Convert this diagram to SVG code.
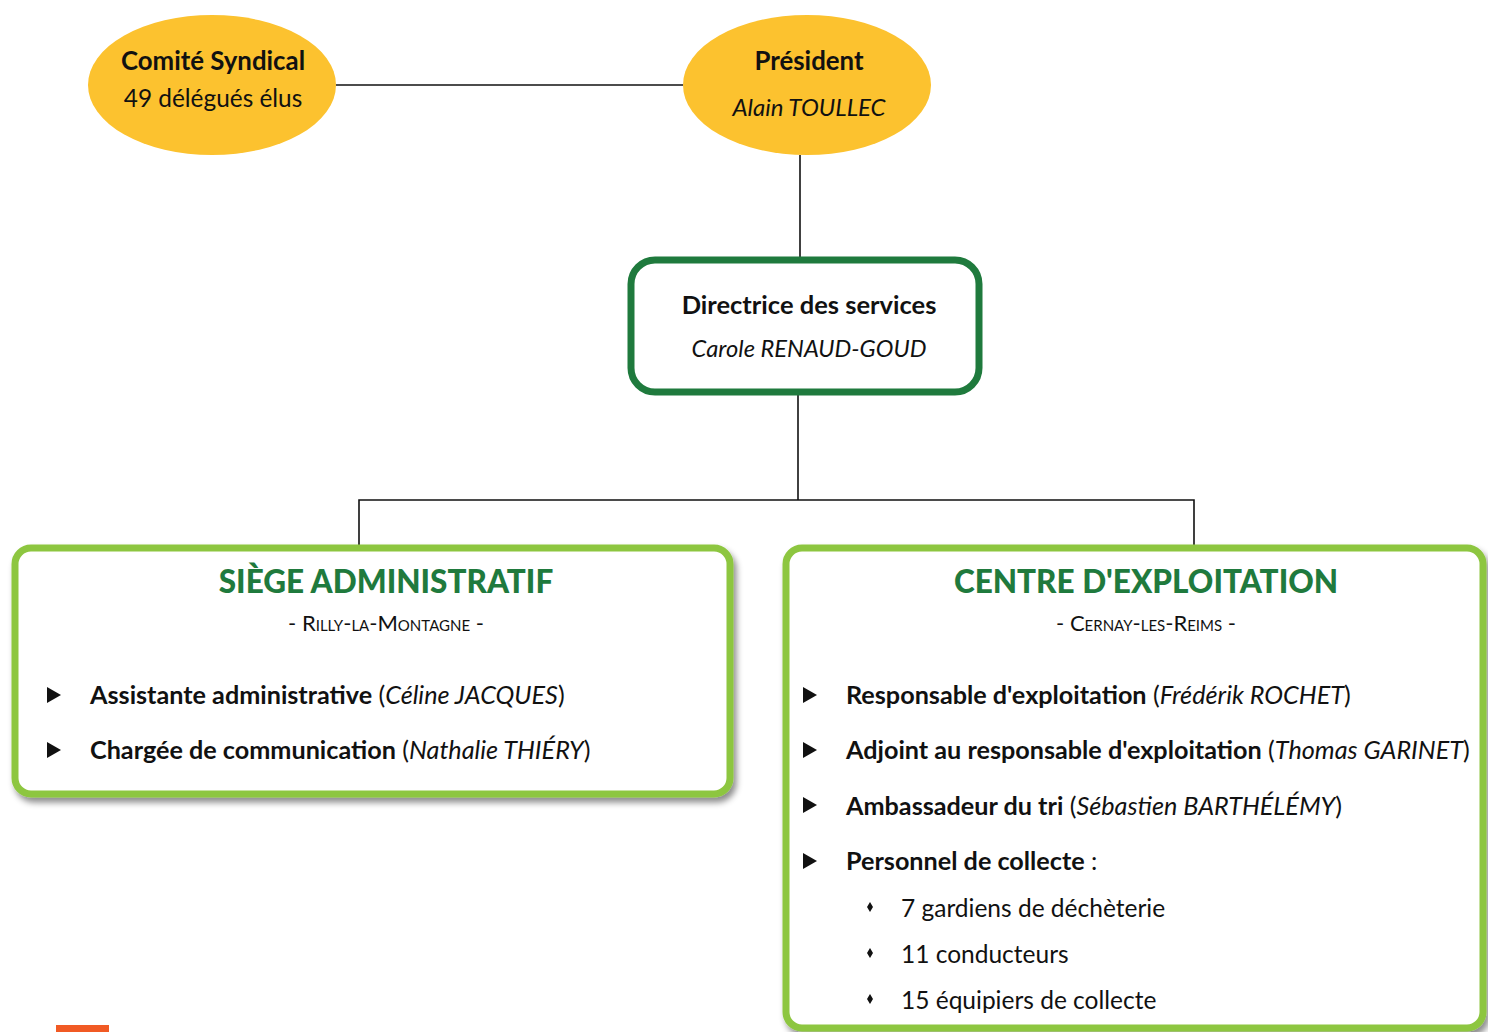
<svg xmlns="http://www.w3.org/2000/svg" width="1488" height="1032" viewBox="0 0 1488 1032">
<defs>
<style>
.t{font-family:Lato,"Open Sans","Noto Sans",sans-serif;fill:#111}
.b{font-weight:bold}
.i{font-style:italic}
.c{text-anchor:middle}
.conn{stroke:#111;stroke-width:1.6;fill:none}
.ell{fill:#fcc22f}
.box{fill:#fff;stroke:#8dc63f;stroke-width:7}
.title{font-family:Lato,"Open Sans",sans-serif;font-weight:900;fill:#1f7a3d;font-size:31.5px;text-anchor:middle}
.sub{font-size:22px;font-variant:small-caps}
.item{font-size:25.2px}
.si{font-size:24.5px}
.tri{fill:#111}
</style>
<filter id="sh" x="-5%" y="-5%" width="112%" height="115%">
<feDropShadow dx="3" dy="5" stdDeviation="3" flood-color="#000" flood-opacity="0.45"/>
</filter>
</defs>
<rect width="1488" height="1032" fill="#fff"/>
<g id="connectors">
<line class="conn" x1="336" y1="85" x2="683" y2="85"/>
<line class="conn" x1="800" y1="155" x2="800" y2="259"/>
<line class="conn" x1="798" y1="393" x2="798" y2="500"/>
<polyline class="conn" points="359,545 359,500 1194,500 1194,545"/>
</g>
<g id="comite">
<ellipse class="ell" cx="212" cy="85" rx="124" ry="70"/>
<text class="t b c" x="213" y="70" font-size="25.8">Comité Syndical</text>
<text class="t c" x="213" y="107" font-size="24.4">49 délégués élus</text>
</g>
<g id="president">
<ellipse class="ell" cx="807" cy="85" rx="124" ry="70"/>
<text class="t b c" x="809" y="70" font-size="25.8">Président</text>
<text class="t i c" x="809" y="116" font-size="24">Alain TOULLEC</text>
</g>
<g id="directrice">
<rect x="631" y="260" width="348" height="132" rx="24" fill="#fff" stroke="#1f7a3d" stroke-width="7"/>
<text class="t b c" x="809" y="314" font-size="25.5">Directrice des services</text>
<text class="t i c" x="809" y="357" font-size="23.7">Carole RENAUD-GOUD</text>
</g>
<g id="siege">
<rect class="box" x="15" y="548" width="715" height="246" rx="16" filter="url(#sh)"/>
<text class="title" x="386" y="593">SIÈGE ADMINISTRATIF</text>
<text class="t c sub" x="386" y="631">- Rilly-la-Montagne -</text>
<polygon class="tri" points="47,687 61,695 47,703"/>
<text class="t item" x="90" y="704"><tspan class="b">Assistante administrative</tspan> (<tspan class="i">Céline JACQUES</tspan>)</text>
<polygon class="tri" points="47,742 61,750 47,758"/>
<text class="t item" x="90" y="759"><tspan class="b">Chargée de communication</tspan> (<tspan class="i">Nathalie THIÉRY</tspan>)</text>
</g>
<g id="centre">
<rect class="box" x="786" y="548" width="697" height="480" rx="16" filter="url(#sh)"/>
<text class="title" x="1146" y="593">CENTRE D'EXPLOITATION</text>
<text class="t c sub" x="1146" y="631">- Cernay-les-Reims -</text>
<polygon class="tri" points="803,687 817,695 803,703"/>
<text class="t item" x="846" y="704"><tspan class="b">Responsable d'exploitation</tspan> (<tspan class="i">Frédérik ROCHET</tspan>)</text>
<polygon class="tri" points="803,742 817,750 803,758"/>
<text class="t item" x="846" y="759"><tspan class="b">Adjoint au responsable d'exploitation</tspan> (<tspan class="i">Thomas GARINET</tspan>)</text>
<polygon class="tri" points="803,797 817,805 803,813"/>
<text class="t item" x="846" y="815"><tspan class="b">Ambassadeur du tri</tspan> (<tspan class="i">Sébastien BARTHÉLÉMY</tspan>)</text>
<polygon class="tri" points="803,853 817,861 803,869"/>
<text class="t item" x="846" y="870"><tspan class="b">Personnel de collecte</tspan> :</text>
<polygon class="tri" points="870,902 873,907 870,912 867,907"/>
<text class="t si" x="901" y="917">7 gardiens de déchèterie</text>
<polygon class="tri" points="870,948 873,953 870,958 867,953"/>
<text class="t si" x="901" y="963">11 conducteurs</text>
<polygon class="tri" points="870,994 873,999 870,1004 867,999"/>
<text class="t si" x="901" y="1009">15 équipiers de collecte</text>
</g>
<rect x="56" y="1025" width="53" height="7" fill="#f15a24"/>
</svg>
